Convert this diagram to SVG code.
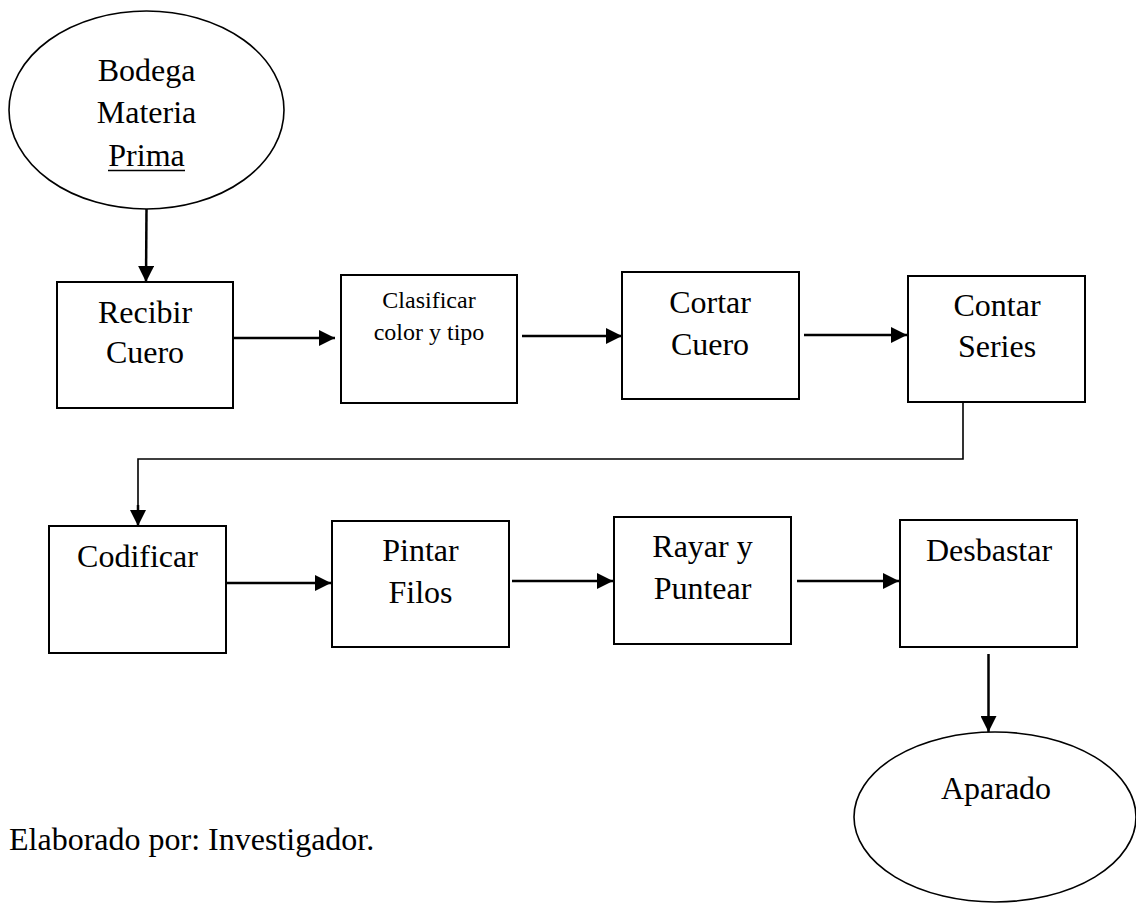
<svg xmlns="http://www.w3.org/2000/svg" width="1136" height="905" viewBox="0 0 1136 905">
<style>
.box{fill:#fff;stroke:#000;stroke-width:2}
.ell{fill:#fff;stroke:#000;stroke-width:1.6}
.t{font-family:"Liberation Serif","Times New Roman",serif;font-size:32px;fill:#000;text-anchor:middle}
.ts{font-family:"Liberation Serif","Times New Roman",serif;font-size:24px;fill:#000;text-anchor:middle}
.c{fill:none;stroke:#000;stroke-width:2.5}
.c2{fill:none;stroke:#000;stroke-width:1.6}
</style>
<defs>
<marker id="ah" viewBox="0 0 16 16" refX="16" refY="8" markerWidth="16" markerHeight="16" markerUnits="userSpaceOnUse" orient="auto">
<path d="M0,0 L16,8 L0,16 Z" fill="#000"/>
</marker>
</defs>
<rect width="1136" height="905" fill="#fff"/>
<g id="connectors">
<path class="c" d="M146.5,209 L146,282" marker-end="url(#ah)"/>
<path class="c" d="M233,338 L335,338" marker-end="url(#ah)"/>
<path class="c" d="M522,336 L622,336" marker-end="url(#ah)"/>
<path class="c" d="M804,335 L907,335" marker-end="url(#ah)"/>
<path class="c2" d="M963,402 L963,459 L138,459 L138,510"/>
<path class="c" d="M138,505 L138,526" marker-end="url(#ah)"/>
<path class="c" d="M227,583 L331,583" marker-end="url(#ah)"/>
<path class="c" d="M512,581 L613,581" marker-end="url(#ah)"/>
<path class="c" d="M797,581 L899,581" marker-end="url(#ah)"/>
<path class="c" d="M988.5,654 L988.5,732" marker-end="url(#ah)"/>
</g>
<g id="n-bodega">
<ellipse class="ell" cx="146.5" cy="110" rx="137.5" ry="99"/>
<text class="t" x="146.5" y="81">Bodega</text>
<text class="t" x="146.5" y="123">Materia</text>
<text class="t" x="146.5" y="166">Prima</text>
<line x1="108" y1="170.5" x2="185" y2="170.5" stroke="#000" stroke-width="1.6"/>
</g>
<g id="n-recibir">
<rect class="box" x="57" y="282" width="176" height="126"/>
<text class="t" x="145" y="323">Recibir</text>
<text class="t" x="145" y="363">Cuero</text>
</g>
<g id="n-clasificar">
<rect class="box" x="341" y="275" width="176" height="128"/>
<text class="ts" x="429" y="308">Clasificar</text>
<text class="ts" x="429" y="340">color y tipo</text>
</g>
<g id="n-cortar">
<rect class="box" x="622" y="272" width="177" height="127"/>
<text class="t" x="710" y="313">Cortar</text>
<text class="t" x="710" y="355">Cuero</text>
</g>
<g id="n-contar">
<rect class="box" x="908" y="276" width="177" height="126"/>
<text class="t" x="997" y="316">Contar</text>
<text class="t" x="997" y="357">Series</text>
</g>
<g id="n-codificar">
<rect class="box" x="49" y="526" width="177" height="127"/>
<text class="t" x="137.5" y="567">Codificar</text>
</g>
<g id="n-pintar">
<rect class="box" x="332" y="521" width="177" height="126"/>
<text class="t" x="420.5" y="561">Pintar</text>
<text class="t" x="420.5" y="603">Filos</text>
</g>
<g id="n-rayar">
<rect class="box" x="614" y="517" width="177" height="127"/>
<text class="t" x="702.5" y="557">Rayar y</text>
<text class="t" x="702.5" y="599">Puntear</text>
</g>
<g id="n-desbastar">
<rect class="box" x="900" y="520" width="177" height="127"/>
<text class="t" x="989" y="561">Desbastar</text>
</g>
<g id="n-aparado">
<ellipse class="ell" cx="995" cy="817" rx="141" ry="85"/>
<text class="t" x="996" y="799">Aparado</text>
</g>
<g id="footer">
<text x="9" y="850" style="font-family:'Liberation Serif','Times New Roman',serif;font-size:32px;fill:#000">Elaborado por: Investigador.</text>
</g>
</svg>
